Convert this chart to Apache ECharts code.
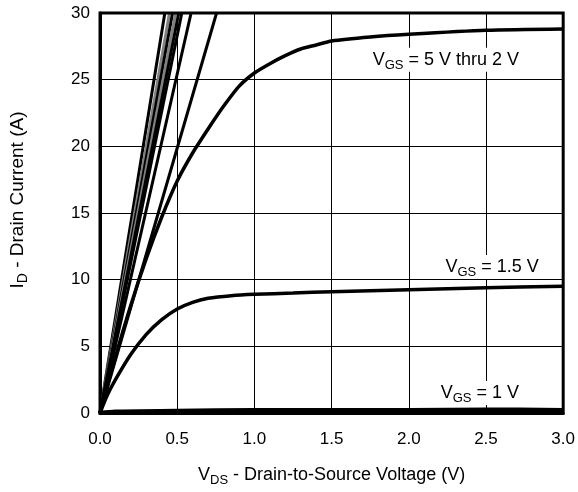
<!DOCTYPE html>
<html>
<head>
<meta charset="utf-8">
<script src="https://cdn.jsdelivr.net/npm/echarts@6/dist/echarts.min.js"></script>
<style>html,body{margin:0;padding:0;background:#fff}#c{width:578px;height:492px}</style>
</head>
<body>
<div id="c"></div>
<script>
// Linear-region lines (VGS = 5 V thru 2 V family): [VDS, ID] pairs
var steepLines = [
  {color: '#000000', data: [[0, 0], [0.42, 30]]},
  {color: '#808080', data: [[0, 0], [0.45, 30]]},
  {color: '#000000', data: [[0, 0], [0.47, 30]]},
  {color: '#808080', data: [[0, 0], [0.49, 30]]},
  {color: '#000000', data: [[0, 0], [0.51, 30]]},
  {color: '#000000', data: [[0, 0], [0.53, 30]]},
  {color: '#000000', data: [[0, 0], [0.59, 30]]},
  {color: '#000000', data: [[0, 0], [0.755, 30]]}
];
var curve2V = [[0, 0], [0.1, 4.2], [0.2, 8.1], [0.3, 11.6], [0.4, 14.7], [0.5, 17.4], [0.6, 19.5], [0.7, 21.3], [0.8, 23.0], [0.9, 24.5], [1.0, 25.5], [1.1, 26.2], [1.2, 26.8], [1.3, 27.3], [1.4, 27.6], [1.5, 27.9], [1.75, 28.2], [2.0, 28.4], [2.5, 28.7], [3.0, 28.8]];
var curve1p5V = [[0, 0], [0.05, 1.4], [0.1, 2.5], [0.2, 4.4], [0.3, 5.9], [0.4, 7.0], [0.5, 7.8], [0.6, 8.3], [0.7, 8.6], [0.85, 8.8], [1.0, 8.9], [1.25, 9.0], [1.5, 9.1], [2.0, 9.25], [2.5, 9.4], [3.0, 9.5]];
var curve1V = [[0, 0], [0.1, 0.1], [0.5, 0.15], [1.0, 0.2], [1.5, 0.2], [2.0, 0.2], [2.5, 0.25], [3.0, 0.2]];
var xTicks = {min: 0, max: 3, interval: 0.5};
var yTicks = {min: 0, max: 30, interval: 5};
var labels = [
  {coord: [2.24, 26.5], text: '{a|V}{b|GS}{a| = 5 V thru 2 V}'},
  {coord: [2.54, 10.95], text: '{a|V}{b|GS}{a| = 1.5 V}'},
  {coord: [2.46, 1.5], text: '{a|V}{b|GS}{a| = 1 V}'}
];

var FONT = 'Liberation Sans, Arial, Helvetica, sans-serif';
function makeRich(size, sub) {
  return {
    a: {fontSize: size, fontFamily: FONT, color: '#000', lineHeight: size + 6},
    b: {fontSize: sub, fontFamily: FONT, color: '#000', lineHeight: size + 6, verticalAlign: 'bottom', padding: [Math.round(size * 0.4), 0, 0, 0]}
  };
}
var labelRich = makeRich(18, 13);

var series = [];
steepLines.forEach(function (l) {
  series.push({type: 'line', data: l.data, symbol: 'none', lineStyle: {color: l.color, width: 3}, z: 3, silent: true});
});
series.push({type: 'line', data: curve2V, symbol: 'none', smooth: 0.25, lineStyle: {color: '#000', width: 3.5}, z: 4, silent: true});
series.push({type: 'line', data: curve1p5V, symbol: 'none', smooth: 0.3, lineStyle: {color: '#000', width: 3.5}, z: 4, silent: true});
series.push({type: 'line', data: curve1V, symbol: 'none', smooth: 0.3, lineStyle: {color: '#000', width: 4.5}, z: 4, silent: true,
  markPoint: {
    symbol: 'rect', symbolSize: 0.001, silent: true,
    data: labels.map(function (l) {
      return {coord: l.coord, label: {show: true, position: 'inside', formatter: l.text, rich: labelRich, backgroundColor: '#fff', padding: [0, 3, 0, 3]}};
    })
  }
});

var yNameStyle = {rich: makeRich(19, 14), padding: [0, 0, 0, 26]};

var chart = echarts.init(document.getElementById('c'));
chart.setOption({
  animation: false,
  backgroundColor: '#fff',
  grid: {left: 100, right: 13, top: 13, bottom: 78, show: true, borderColor: '#000', borderWidth: 3, backgroundColor: 'transparent', z: 10},
  xAxis: {
    type: 'value', min: xTicks.min, max: xTicks.max, interval: xTicks.interval,
    axisLine: {show: true, lineStyle: {color: '#000', width: 3}},
    axisTick: {show: false},
    splitLine: {show: true, lineStyle: {color: '#000', width: 1}},
    axisLabel: {color: '#000', fontSize: 17, fontFamily: FONT, margin: 18, formatter: function (v) { return v.toFixed(1); }},
    name: '{a|V}{b|DS}{a| - Drain-to-Source Voltage (V)}',
    nameLocation: 'middle', nameGap: 50,
    nameTextStyle: {rich: makeRich(18, 13)}
  },
  yAxis: {
    type: 'value', min: yTicks.min, max: yTicks.max, interval: yTicks.interval,
    axisLine: {show: true, lineStyle: {color: '#000', width: 3}},
    axisTick: {show: false},
    splitLine: {show: true, lineStyle: {color: '#000', width: 1}},
    axisLabel: {color: '#000', fontSize: 17, fontFamily: FONT, margin: 10},
    name: '{a|I}{b|D}{a| - Drain Current (A)}',
    nameLocation: 'middle', nameGap: 70, nameRotate: 90,
    nameTextStyle: yNameStyle
  },
  series: series
});
</script>
</body>
</html>
